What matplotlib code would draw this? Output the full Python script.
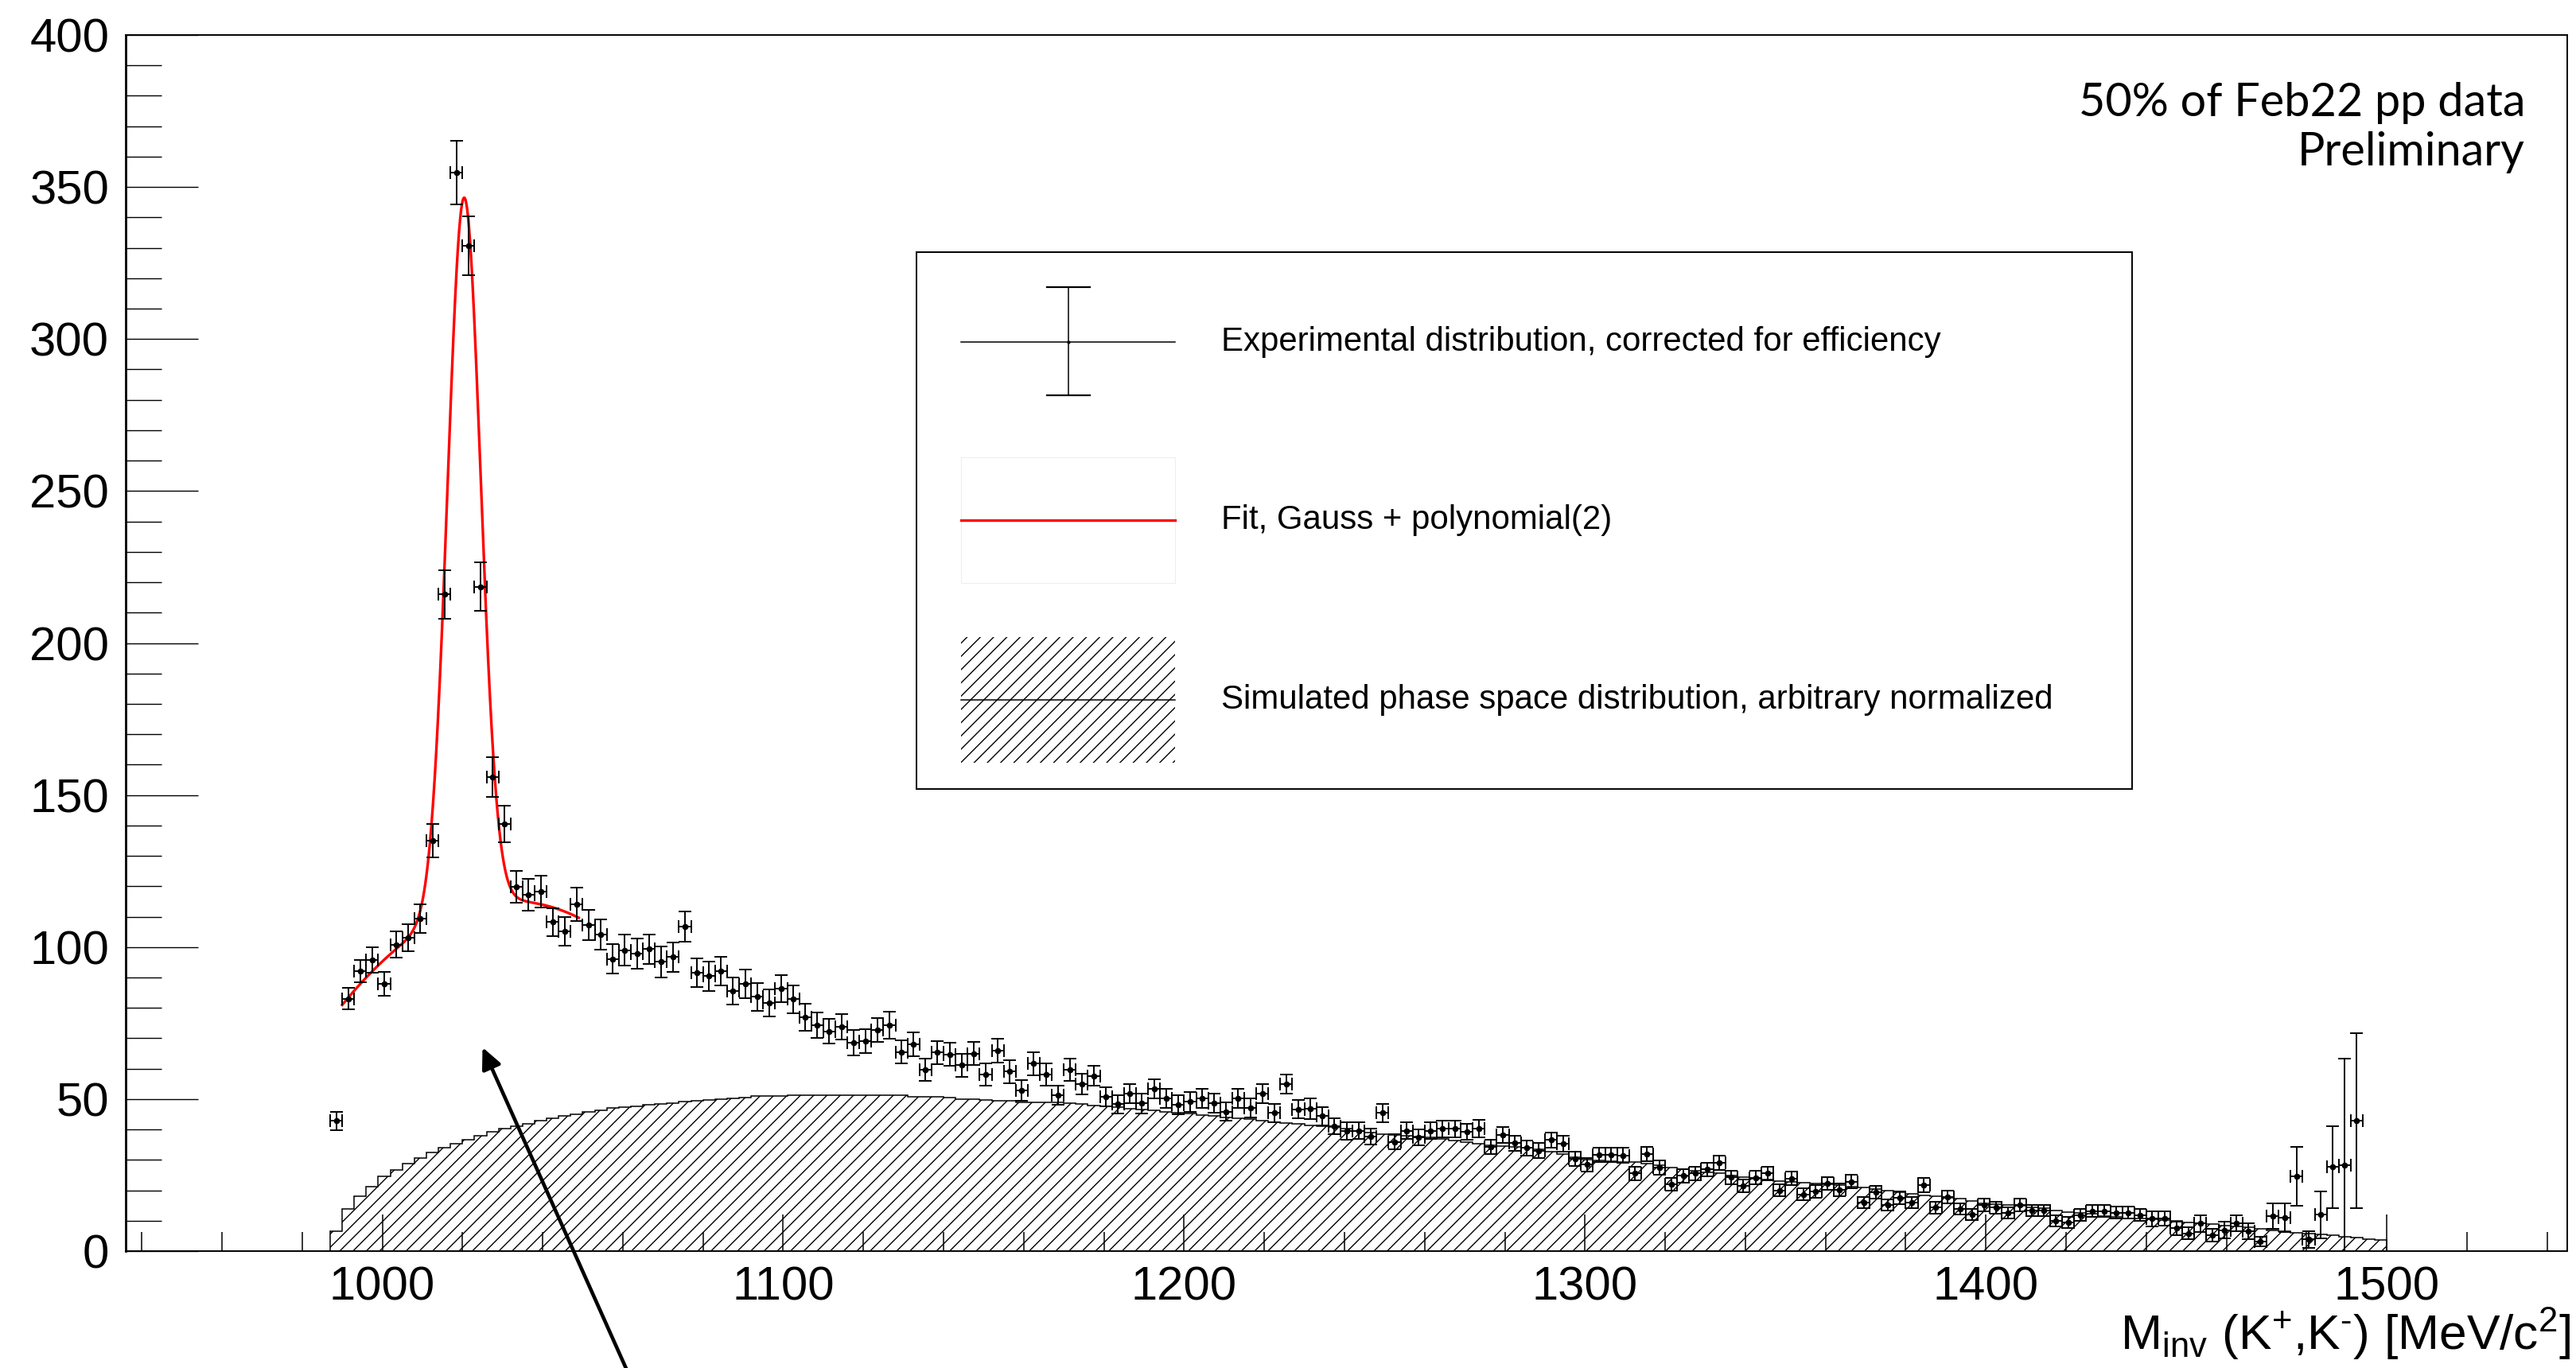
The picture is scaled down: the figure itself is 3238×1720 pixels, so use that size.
import numpy as np
import matplotlib
matplotlib.use("Agg")
import matplotlib.pyplot as plt
from matplotlib.ticker import MultipleLocator
from matplotlib.patches import Rectangle, ArrowStyle

plt.rcParams['font.family'] = ['Liberation Sans', 'DejaVu Sans']
plt.rcParams['mathtext.fontset'] = 'custom'
plt.rcParams['mathtext.rm'] = 'Liberation Sans'
plt.rcParams['mathtext.it'] = 'Liberation Sans:italic'
plt.rcParams['hatch.linewidth'] = 1.0

# ---------------- data ----------------
bin_start = 987.0      # MeV/c^2, lower edge of the first bin
bin_width = 3.0        # MeV/c^2

# efficiency-corrected K+K- invariant mass distribution (bin contents)
data_counts = [
    42.8, 83.0, 92.1, 95.7, 87.8, 100.8, 103.0, 109.4, 135.0, 216.0,
    354.8, 330.7, 218.5, 156.0, 140.5, 119.8, 117.2, 118.2, 108.2, 105.2,
    114.1, 107.2, 104.1, 96.1, 98.9, 97.8, 99.3, 95.1, 96.7, 106.7,
    91.6, 90.4, 92.2, 85.6, 88.0, 83.6, 81.6, 86.4, 82.8, 76.9,
    74.3, 72.3, 73.8, 68.5, 69.1, 72.7, 74.3, 65.5, 68.1, 59.6,
    65.3, 64.7, 61.2, 64.9, 58.1, 65.9, 59.0, 52.8, 61.7, 58.1,
    51.2, 59.6, 55.0, 57.6, 50.7, 48.3, 51.8, 48.6, 53.4, 50.2,
    48.1, 49.1, 50.2, 48.6, 45.9, 50.2, 47.0, 51.8, 45.4, 54.9,
    46.6, 46.8, 44.4, 41.1, 39.6, 39.6, 37.6, 45.5, 35.9, 39.6,
    37.4, 39.6, 40.2, 40.2, 39.2, 40.3, 34.2, 38.3, 35.5, 33.9,
    33.0, 36.5, 35.4, 30.4, 28.4, 31.7, 31.7, 31.5, 25.6, 31.9,
    27.4, 22.0, 24.8, 25.6, 26.9, 29.0, 24.3, 21.5, 24.1, 25.6,
    20.0, 23.9, 18.7, 19.7, 22.2, 20.1, 22.8, 15.9, 19.4, 15.2,
    17.5, 16.0, 21.7, 14.3, 17.8, 13.9, 12.1, 15.2, 14.3, 12.6,
    15.2, 13.4, 13.4, 9.9, 9.5, 11.9, 13.2, 13.2, 12.6, 12.6,
    11.9, 10.6, 10.8, 7.5, 5.8, 9.1, 5.2, 6.9, 9.2, 6.6,
    3.2, 11.4, 11.0, 24.6, 3.8, 12.0, 27.6, 28.3, 42.9,
]

data_errors = [
    3.0, 3.6, 3.6, 4.2, 3.9, 4.3, 4.4, 4.7, 5.5, 8.0,
    10.5, 9.6, 8.0, 6.5, 6.0, 5.2, 5.3, 5.2, 4.6, 4.7,
    5.5, 5.0, 4.9, 4.8, 5.1, 5.0, 4.8, 5.1, 4.8, 5.0,
    4.8, 4.8, 4.7, 4.4, 4.7, 4.5, 4.4, 4.4, 4.5, 4.4,
    4.2, 4.1, 4.1, 4.2, 3.9, 3.9, 4.4, 3.8, 3.9, 3.7,
    3.8, 3.8, 3.8, 3.8, 3.7, 4.0, 3.7, 3.4, 3.8, 3.7,
    3.1, 3.6, 3.4, 3.3, 3.2, 3.1, 3.1, 3.3, 3.2, 3.1,
    3.2, 3.3, 3.2, 3.2, 2.9, 3.2, 3.1, 3.1, 3.1, 3.1,
    3.0, 3.3, 3.0, 2.7, 2.9, 2.7, 2.6, 3.0, 2.5, 2.7,
    2.6, 2.7, 2.7, 2.8, 2.6, 2.8, 2.4, 2.6, 2.5, 2.5,
    2.5, 2.6, 2.6, 2.4, 2.3, 2.4, 2.4, 2.4, 2.2, 2.4,
    2.3, 2.1, 2.2, 2.2, 2.2, 2.3, 2.2, 2.1, 2.2, 2.2,
    2.0, 2.2, 2.0, 2.1, 2.1, 2.1, 2.2, 1.9, 2.1, 1.9,
    2.0, 1.9, 2.3, 1.9, 2.0, 1.9, 1.8, 2.0, 1.9, 1.9,
    2.0, 1.9, 1.9, 1.8, 1.8, 1.9, 2.0, 2.0, 2.0, 2.0,
    2.0, 2.4, 2.4, 2.2, 2.0, 2.8, 2.0, 2.8, 2.6, 2.6,
    1.5, 4.2, 4.8, 9.8, 2.8, 7.7, 13.5, 35.0, 28.8,
]

# simulated phase space (arbitrary normalisation), same binning
phase_space = [
    6.5, 13.9, 18.0, 21.3, 24.5, 26.8, 28.7, 30.6, 32.4, 33.9,
    35.4, 36.7, 38.0, 39.2, 40.2, 41.1, 41.9, 42.8, 43.7, 44.4,
    45.1, 45.7, 46.3, 47.0, 47.4, 47.7, 48.1, 48.4, 48.7, 49.1,
    49.4, 49.6, 50.0, 50.2, 50.4, 50.9, 50.9, 51.0, 51.4, 51.4,
    51.4, 51.4, 51.4, 51.4, 51.4, 51.4, 51.4, 51.2, 50.7, 50.7,
    50.7, 50.4, 50.0, 50.0, 49.8, 49.4, 49.4, 48.9, 48.9, 48.9,
    48.8, 48.6, 48.4, 48.0, 47.7, 47.3, 46.9, 46.6, 46.2, 45.9,
    45.5, 45.2, 44.8, 44.4, 44.0, 43.7, 43.3, 42.9, 42.5, 42.2,
    41.8, 41.4, 41.1, 40.7, 40.2, 39.6, 38.9, 38.5, 38.3, 38.0,
    37.6, 37.3, 37.0, 36.3, 35.9, 35.4, 34.9, 34.6, 34.2, 33.9,
    33.4, 32.6, 31.9, 30.8, 30.2, 29.8, 29.6, 29.4, 29.2, 28.7,
    28.2, 27.5, 26.9, 26.5, 26.0, 25.6, 24.9, 24.4, 23.9, 23.5,
    23.0, 22.7, 22.4, 22.3, 21.9, 21.7, 21.2, 20.9, 20.4, 20.0,
    19.4, 18.9, 18.2, 18.0, 17.6, 17.2, 16.4, 15.8, 15.4, 15.1,
    14.8, 14.4, 14.2, 13.4, 12.9, 12.5, 12.2, 11.6, 11.2, 10.8,
    10.6, 10.4, 10.2, 9.9, 9.4, 9.1, 8.8, 8.4, 8.0, 7.8,
    7.2, 6.8, 6.5, 6.1, 5.8, 5.4, 5.2, 4.7, 4.4, 4.0,
    3.6,
]

# fit: Gauss + polynomial(2), polynomial in (m - fit_pivot)
fit_range = (990.0, 1049.0)
fit_amplitude = 234.0
fit_mean = 1020.4
fit_sigma = 4.1
fit_pivot = 1020.0
fit_pol = (112.3, 0.467, -0.01926)

x_ticks_major = [1000, 1100, 1200, 1300, 1400, 1500]
y_ticks_major = [0, 50, 100, 150, 200, 250, 300, 350, 400]
x_limits = (936.0, 1545.0)
y_limits = (0.0, 400.0)

arrow_tip = (1025.0, 67.0)          # data coordinates

legend_labels = [
    "Experimental distribution, corrected for efficiency",
    "Fit, Gauss + polynomial(2)",
    "Simulated phase space distribution, arbitrary normalized",
]
note_lines = ["50% of Feb22 pp data", "Preliminary"]
x_title = r"M$_{\mathrm{inv}}$ (K$^{+}$,K$^{\text{-}}$) [MeV/c$^{2}$]"

# ---------------- figure ----------------
W, H, DPI = 3238, 1720, 100
fig = plt.figure(figsize=(W / DPI, H / DPI), dpi=DPI, facecolor='white')

ax_l, ax_r, ax_t, ax_b = 158, 3227, 44, 1573
ax = fig.add_axes([ax_l / W, 1 - ax_b / H, (ax_r - ax_l) / W, (ax_b - ax_t) / H])

n_bins = len(phase_space)
edges = bin_start + bin_width * np.arange(n_bins + 1)
centers = bin_start + bin_width * (np.arange(len(data_counts)) + 0.5)

# phase-space histogram, hatched
ax.stairs(phase_space, edges, fill=True, facecolor='none', edgecolor='black',
          hatch='//', linewidth=1.1, zorder=1)

# fit function
mf = np.linspace(fit_range[0], fit_range[1], 600)
d = mf - fit_pivot
fit_curve = (fit_amplitude * np.exp(-0.5 * ((mf - fit_mean) / fit_sigma) ** 2)
             + fit_pol[0] + fit_pol[1] * d + fit_pol[2] * d ** 2)
ax.plot(mf, fit_curve, color='#ff0000', lw=2.4, zorder=2)

# data points
ax.errorbar(centers, data_counts, xerr=bin_width / 2, yerr=data_errors,
            fmt='o', ms=4.5, color='black', ecolor='black', elinewidth=1.4,
            capsize=5.5, capthick=1.4, zorder=3)

ax.set_xlim(*x_limits)
ax.set_ylim(*y_limits)
ax.set_xticks(x_ticks_major)
ax.set_yticks(y_ticks_major)
ax.xaxis.set_minor_locator(MultipleLocator(20))
ax.yaxis.set_minor_locator(MultipleLocator(10))
ax.tick_params(axis='x', which='major', direction='in', length=33, width=1.1,
               pad=13, labelsize=43)
ax.tick_params(axis='x', which='minor', direction='in', length=17.3, width=1.1)
ax.tick_params(axis='y', which='major', direction='in', length=65.5, width=1.0,
               pad=15, labelsize=43)
ax.tick_params(axis='y', which='minor', direction='in', length=32.4, width=1.0)
for s in ax.spines.values():
    s.set_linewidth(1.4)
ax.spines['left'].set_linewidth(2.0)

# arrow pointing at the region under the peak
ax.annotate('', xy=arrow_tip, xycoords='data', xytext=(789, -5),
            textcoords='figure pixels', annotation_clip=False,
            arrowprops=dict(arrowstyle=ArrowStyle('-|>', head_length=16, head_width=7.5),
                            mutation_scale=1, lw=3.3, color='black',
                            shrinkA=0, shrinkB=0))

renderer = fig.canvas.get_renderer()


def fit_width(txt, target_px):
    for _ in range(3):
        w = txt.get_window_extent(renderer).width
        txt.set_fontsize(txt.get_fontsize() * target_px / w)
    return txt.get_fontsize()


# axis title
t_title = fig.text(3231 / W, 1 - 1697 / H, x_title, ha='right', va='baseline', fontsize=44)
fit_width(t_title, 567)

# top-right note
t1 = fig.text(3174 / W, 1 - 146 / H, note_lines[0], ha='right', va='baseline',
              fontsize=42, family=['Lato', 'DejaVu Sans'])
fs_note = fit_width(t1, 562)
fig.text(3174 / W, 1 - 208 / H, note_lines[1], ha='right', va='baseline',
         fontsize=fs_note, family=['Lato', 'DejaVu Sans'])

# legend box (pixel layout inside the box)
lg_l, lg_r, lg_t, lg_b = 1152, 2680, 317, 992
leg = fig.add_axes([lg_l / W, 1 - lg_b / H, (lg_r - lg_l) / W, (lg_b - lg_t) / H])
leg.set_xlim(0, lg_r - lg_l)
leg.set_ylim(lg_b - lg_t, 0)
leg.set_xticks([])
leg.set_yticks([])
for s in leg.spines.values():
    s.set_linewidth(1.4)

sx0, sx1 = 56, 325
sxc = 0.5 * (sx0 + sx1)
rows = [112.5, 337.0, 562.5]
half_h = 79
text_x = 383

# entry 1: data marker with error bars
leg.plot([sx0, sx1], [rows[0], rows[0]], color='black', lw=1.1)
leg.plot([sxc, sxc], [rows[0] - 69, rows[0] + 67], color='black', lw=1.1)
leg.plot([sxc - 27, sxc + 27], [rows[0] - 69, rows[0] - 69], color='black', lw=1.6)
leg.plot([sxc - 27, sxc + 27], [rows[0] + 67, rows[0] + 67], color='black', lw=1.6)
leg.plot([sxc], [rows[0]], 'o', ms=2, color='black')

# entry 2: fit line
leg.add_patch(Rectangle((sx0, rows[1] - half_h), sx1 - sx0, 2 * half_h,
                        facecolor='white', edgecolor='#eeeeee', lw=0.8))
leg.plot([sx0, sx1], [rows[1], rows[1]], color='#ff0000', lw=2.4)

# entry 3: hatched phase space
leg.add_patch(Rectangle((sx0, rows[2] - half_h), sx1 - sx0, 2 * half_h,
                        facecolor='none', edgecolor='black', lw=0, hatch='//'))
leg.plot([sx0, sx1], [rows[2], rows[2]], color='black', lw=1.1)

lt = [leg.text(text_x, r, lab, ha='left', va='center', fontsize=27)
      for r, lab in zip(rows, legend_labels)]
fs_leg = fit_width(lt[0], 905)
for t in lt[1:]:
    t.set_fontsize(fs_leg)

fig.savefig('out.png', dpi=DPI, facecolor='white')
